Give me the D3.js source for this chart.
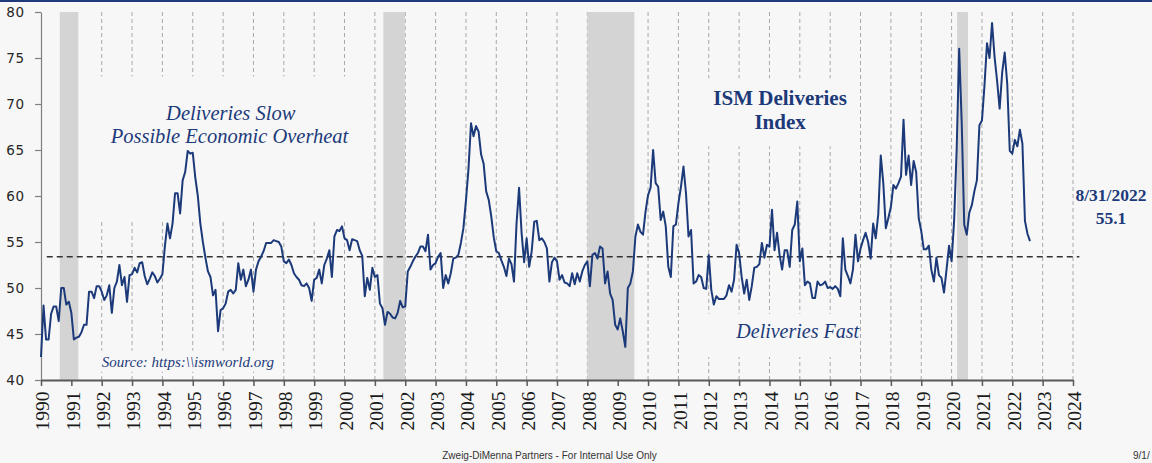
<!DOCTYPE html>
<html><head><meta charset="utf-8">
<script src="https://cdn.jsdelivr.net/npm/d3@7"></script>
<style>
html,body{margin:0;padding:0;background:#f7f7f7;}
svg{display:block;}
</style></head><body>
<svg id="chart" width="1152" height="463"></svg>
<script>
// ---------- data ----------
const startYear = 1990;           // first monthly observation: Jan 1990
const deliveries = [
  // 1990
  42.5, 48.1, 44.4, 44.4, 47.2, 48.0, 48.0, 46.4, 50.0, 50.0, 48.2, 48.5,
  // 1991
  47.3, 44.4, 44.6, 44.7, 45.2, 46.0, 46.0, 49.6, 49.6, 48.9, 50.2, 50.2,
  // 1992
  49.6, 48.7, 49.2, 50.3, 47.3, 50.0, 50.7, 52.5, 50.3, 51.2, 48.5, 51.4,
  // 1993
  51.5, 52.2, 51.7, 52.7, 52.8, 51.3, 50.4, 51.0, 51.7, 51.3, 50.6, 51.0,
  // 1994
  51.5, 54.6, 57.0, 55.4, 57.0, 60.3, 60.3, 58.1, 61.7, 62.6, 64.9, 64.6,
  // 1995
  64.7, 62.0, 60.0, 57.0, 55.0, 53.3, 51.8, 51.2, 49.2, 49.8, 45.3, 47.6,
  // 1996
  47.8, 48.3, 49.6, 49.8, 49.4, 49.8, 52.7, 50.9, 52.0, 50.2, 50.9, 52.0,
  // 1997
  49.6, 52.0, 52.9, 53.4, 54.0, 54.9, 54.9, 54.9, 55.2, 55.1, 55.0, 54.5,
  // 1998
  52.9, 52.7, 53.1, 52.5, 51.6, 51.2, 50.9, 50.3, 50.2, 50.5, 50.0, 48.6,
  // 1999
  50.9, 51.1, 52.0, 50.5, 52.5, 53.2, 54.1, 51.2, 55.6, 56.3, 56.2, 56.7,
  // 2000
  55.4, 55.2, 54.1, 55.3, 55.2, 55.1, 54.1, 53.5, 49.1, 51.1, 49.8, 52.2,
  // 2001
  51.2, 51.4, 48.3, 47.8, 46.0, 47.4, 47.2, 46.8, 46.7, 47.3, 48.6, 47.9,
  // 2002
  48.0, 51.8, 52.3, 52.9, 53.4, 53.8, 54.5, 54.5, 54.0, 55.8, 52.0, 52.5,
  // 2003
  52.7, 53.4, 53.8, 50.0, 51.4, 50.5, 51.6, 53.2, 53.3, 53.6, 54.9, 56.5,
  // 2004
  59.5, 62.9, 67.9, 66.5, 67.6, 67.0, 64.5, 63.5, 60.5, 59.6, 57.8, 55.5,
  // 2005
  54.0, 53.8, 53.0, 52.3, 51.3, 53.2, 52.6, 50.7, 57.0, 60.9, 56.0, 52.8,
  // 2006
  55.4, 52.3, 54.0, 57.2, 57.3, 55.2, 55.4, 55.0, 54.3, 50.7, 52.8, 53.3,
  // 2007
  52.9, 50.9, 51.4, 50.6, 50.5, 50.2, 51.6, 50.4, 51.6, 50.7, 51.8, 52.5,
  // 2008
  52.9, 50.2, 53.6, 53.8, 53.2, 54.5, 54.3, 50.5, 51.8, 49.4, 48.7, 46.0,
  // 2009
  45.5, 46.7, 45.3, 43.6, 50.0, 50.5, 51.8, 55.6, 56.9, 56.1, 55.8, 58.3,
  // 2010
  60.1, 60.9, 65.0, 61.4, 61.0, 57.4, 58.3, 56.7, 52.3, 51.2, 56.7, 56.9,
  // 2011
  59.2, 61.0, 63.2, 60.3, 55.6, 56.3, 50.5, 50.7, 51.4, 51.2, 50.0, 49.9,
  // 2012
  53.6, 49.8, 48.2, 49.1, 48.8, 48.8, 48.8, 49.2, 50.3, 49.6, 50.9, 54.7,
  // 2013
  53.8, 51.2, 49.4, 50.9, 48.7, 50.2, 52.2, 52.3, 52.6, 54.9, 53.3, 54.7,
  // 2014
  54.5, 58.5, 54.1, 56.0, 53.6, 52.0, 54.1, 54.1, 52.3, 56.3, 56.9, 59.4,
  // 2015
  52.9, 54.3, 50.3, 50.7, 50.5, 48.9, 48.9, 50.7, 50.3, 50.4, 50.7, 50.0,
  // 2016
  50.1, 49.9, 50.2, 49.9, 49.1, 55.4, 52.0, 51.3, 50.5, 52.0, 55.8, 52.9,
  // 2017
  54.3, 55.2, 56.0, 55.0, 53.2, 57.0, 55.4, 58.0, 64.4, 61.4, 56.5, 57.6,
  // 2018
  58.8, 61.2, 60.8, 61.4, 62.1, 68.3, 62.3, 64.4, 61.2, 63.8, 62.6, 57.6,
  // 2019
  56.2, 54.2, 54.2, 54.6, 52.0, 50.7, 53.3, 51.4, 51.1, 49.5, 52.0, 54.6,
  // 2020
  52.9, 57.3, 65.0, 76.0, 68.0, 56.9, 55.8, 58.2, 59.0, 60.5, 61.7, 67.7,
  // 2021
  68.2, 72.0, 76.6, 75.0, 78.8, 75.1, 72.5, 69.5, 73.4, 75.6, 72.2, 64.9,
  // 2022
  64.6, 66.1, 65.4, 67.2, 65.7, 57.3, 55.9, 55.1
];
const yearTicks = d3.range(1990, 2025);
const valueTicks = [40, 45, 50, 55, 60, 65, 70, 75, 80];
const recessions = [[1990.62, 1991.23], [2001.28, 2001.99], [2008.0, 2009.55], [2020.18, 2020.54]];
const averageLevel = 53.4;
const averageSpan = [1990.19, 2024.21];
const lastLabel = ["8/31/2022", "55.1"];
const slowText = ["Deliveries Slow", "Possible Economic Overheat"];
const titleText = ["ISM Deliveries", "Index"];
const fastText = "Deliveries Fast";
const sourceText = "Source: https:\\\\ismworld.org";
const footerText = "Zweig-DiMenna Partners - For Internal Use Only";
const dateText = "9/1/";

// ---------- drawing ----------
const W = 1152, H = 463, BG = '#f7f7f7', NAVY = '#1c3a7a';
const x = d3.scaleLinear().domain([1990, 2024]).range([41, 1073]);
const y = d3.scaleLinear().domain([40, 80]).range([380, 12]);
const svg = d3.select('#chart');

svg.append('rect').attr('width', W).attr('height', H).attr('fill', BG);
svg.append('rect').attr('x', 0).attr('y', 0).attr('width', W).attr('height', 2).attr('fill', '#1f3a7a');

// vertical dashed gridlines
svg.append('g').selectAll('line').data(yearTicks.filter(d => d > 1990)).join('line')
  .attr('x1', d => x(d)).attr('x2', d => x(d))
  .attr('y1', y(80)).attr('y2', y(40))
  .attr('stroke', '#a8a8a8').attr('stroke-width', 1).attr('stroke-dasharray', '4,3');

// recession bands
svg.append('g').selectAll('rect').data(recessions).join('rect')
  .attr('x', d => x(d[0])).attr('width', d => x(d[1]) - x(d[0]))
  .attr('y', y(80)).attr('height', y(40) - y(80))
  .attr('fill', '#d4d4d4');

// average dashed line
svg.append('line')
  .attr('x1', x(averageSpan[0])).attr('x2', x(averageSpan[1]))
  .attr('y1', y(averageLevel)).attr('y2', y(averageLevel))
  .attr('stroke', '#333').attr('stroke-width', 1.4).attr('stroke-dasharray', '6,4');

// text boxes (mask gridlines)
const boxes = [
  [1991.8, 2000.2, 73, 57.2],    // slow
  [2011.2, 2016.95, 72.8, 65.4], // title
  [2011.2, 2016.95, 47.2, 42.5], // fast
  [1991.9, 1997.8, 43.2, 40.9]   // source
];
svg.append('g').selectAll('rect').data(boxes).join('rect')
  .attr('x', d => x(d[0])).attr('width', d => x(d[1]) - x(d[0]))
  .attr('y', d => y(d[2])).attr('height', d => y(d[3]) - y(d[2]))
  .attr('fill', BG);

// axes
const yAxis = d3.axisLeft(y).tickValues(valueTicks).tickSize(6).tickSizeOuter(0).tickPadding(10);
const gy = svg.append('g').attr('transform', `translate(${x(1990)},0)`).call(yAxis);
gy.select('.domain').attr('stroke', '#808080').attr('stroke-width', 1.2);
gy.selectAll('.tick line').attr('stroke', '#808080').attr('stroke-width', 1.2);
gy.selectAll('.tick text').attr('fill', '#262626')
  .style('font-family', '"DejaVu Sans", Verdana, sans-serif').style('font-size', '13.5px')
  .style('letter-spacing', '0.8px');

const xAxis = d3.axisBottom(x).tickValues(yearTicks).tickFormat(d3.format('d')).tickSize(6).tickSizeOuter(0);
const gx = svg.append('g').attr('transform', `translate(0,${y(40)})`).call(xAxis);
gx.select('.domain').attr('stroke', '#595959').attr('stroke-width', 2.2);
gx.selectAll('.tick line').attr('stroke', '#595959').attr('stroke-width', 1.5);
gx.selectAll('.tick text')
  .attr('transform', 'rotate(-90)')
  .attr('x', -11.5).attr('y', 0).attr('dy', '0.40em')
  .style('text-anchor', 'end')
  .attr('fill', '#1a1a1a')
  .style('font-family', '"Liberation Serif", "Times New Roman", serif').style('font-size', '19.5px');

// data line
const line = d3.line().x((d, i) => x(startYear + i / 12)).y(d => y(d));
svg.append('path').datum(deliveries)
  .attr('d', line).attr('fill', 'none')
  .attr('stroke', NAVY).attr('stroke-width', 2).attr('stroke-linejoin', 'round');

// annotations
const serif = '"Liberation Serif", "Times New Roman", serif';
function label(txt, xv, yv, size, opts = {}) {
  return svg.append('text').text(txt)
    .attr('x', x(xv)).attr('y', y(yv))
    .attr('text-anchor', opts.anchor || 'middle')
    .attr('fill', opts.fill || NAVY)
    .style('font-family', opts.family || serif)
    .style('font-size', size + 'px')
    .style('font-style', opts.italic ? 'italic' : 'normal')
    .style('font-weight', opts.bold ? 'bold' : 'normal');
}
label(slowText[0], 1996.25, 68.3, 20.5, {italic: true});
label(slowText[1], 1996.21, 65.8, 20.5, {italic: true});
label(titleText[0], 2014.35, 69.9, 21, {bold: true});
label(titleText[1], 2014.35, 67.3, 21, {bold: true});
label(fastText, 2014.93, 44.6, 20, {italic: true});
label(sourceText, 1992.0, 41.45, 15, {italic: true, anchor: 'start'});
label(lastLabel[0], 2025.25, 59.5, 17.5, {bold: true});
label(lastLabel[1], 2025.25, 57.0, 17.5, {bold: true});

// footer
svg.append('text').text(footerText)
  .attr('x', 549.5).attr('y', 459).attr('text-anchor', 'middle')
  .attr('fill', '#333').style('font-family', '"Liberation Sans", Arial, sans-serif').style('font-size', '10px');
svg.append('text').text(dateText)
  .attr('x', 1133).attr('y', 459).attr('text-anchor', 'start')
  .attr('fill', '#333').style('font-family', '"Liberation Sans", Arial, sans-serif').style('font-size', '10px');
</script>
</body></html>
